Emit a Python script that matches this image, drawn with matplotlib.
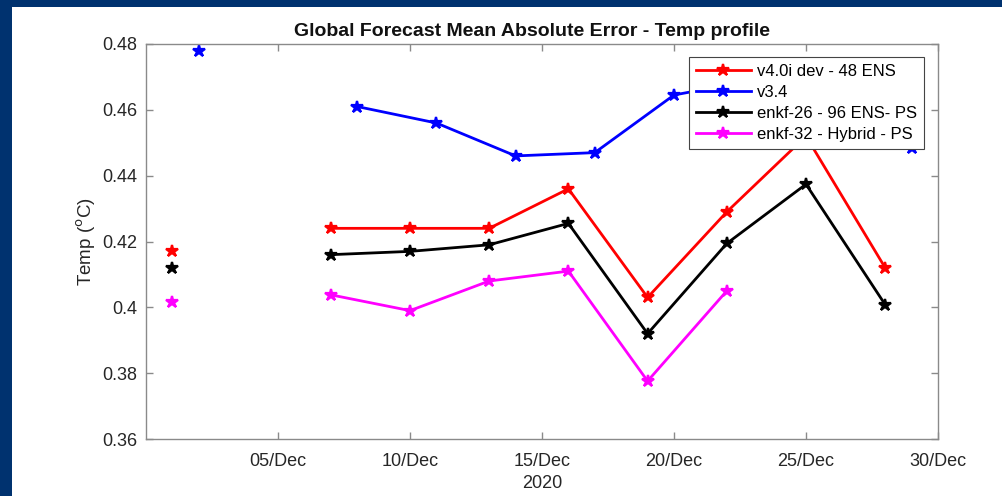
import matplotlib
matplotlib.use("Agg")
import matplotlib.pyplot as plt
import matplotlib.dates as mdates
from matplotlib.patches import Rectangle
import numpy as np
import datetime as dt

plt.rcParams['font.family'] = ['Liberation Sans', 'DejaVu Sans']

# ---- data ----
red_days = [1, 7, 10, 13, 16, 19, 22, 25, 28]
red_vals = [0.417, 0.424, 0.424, 0.424, 0.436, 0.403, 0.429, 0.452, 0.412]

blue_days = [2, 8, 11, 14, 17, 20, 23, 26, 29]
blue_vals = [0.478, 0.461, 0.456, 0.446, 0.447, 0.4645, 0.469, 0.462, 0.4485]

black_days = [1, 7, 10, 13, 16, 19, 22, 25, 28]
black_vals = [0.412, 0.416, 0.417, 0.419, 0.4255, 0.392, 0.4194, 0.4374, 0.4008]

mag_days = [1, 7, 10, 13, 16, 19, 22]
mag_vals = [0.4017, 0.4038, 0.399, 0.408, 0.411, 0.3776, 0.405]

labels = ['v4.0i dev - 48 ENS', 'v3.4', 'enkf-26 - 96 ENS- PS', 'enkf-32 - Hybrid - PS']
colors = ['#ff0000', '#0000ff', '#000000', '#ff00ff']

yticks = [0.36, 0.38, 0.40, 0.42, 0.44, 0.46, 0.48]
ytick_labels = ['0.36', '0.38', '0.4', '0.42', '0.44', '0.46', '0.48']
xtick_days = [5, 10, 15, 20, 25, 30]


def to_dates(days):
    return [dt.datetime(2020, 12, d) for d in days]


def segments(days, vals):
    # break lines where consecutive points are not 3 days apart (gaps in series)
    segs = []
    cur_d, cur_v = [days[0]], [vals[0]]
    for d, v in zip(days[1:], vals[1:]):
        if d - cur_d[-1] > 3:
            segs.append((cur_d, cur_v))
            cur_d, cur_v = [d], [v]
        else:
            cur_d.append(d)
            cur_v.append(v)
    segs.append((cur_d, cur_v))
    return segs


W, H = 1003, 496
fig = plt.figure(figsize=(W / 100, H / 100), dpi=100)
fig.patch.set_facecolor('#00326f')
bg = Rectangle((12 / W, 0), 1 - 12 / W, 1 - 7 / H,
               transform=fig.transFigure, facecolor='white',
               edgecolor='none', zorder=-10)
fig.add_artist(bg)

ax = fig.add_axes([146 / W, 1 - 439 / H, (938 - 146) / W, (439 - 44) / H])
ax.set_zorder(1)

handles = []
for (days, vals), c, lab in zip([(red_days, red_vals), (blue_days, blue_vals),
                                  (black_days, black_vals), (mag_days, mag_vals)],
                                 colors, labels):
    first = True
    for sd, sv in segments(days, vals):
        ln, = ax.plot(to_dates(sd), sv, '-', color=c, lw=2.0, marker='*',
                      markersize=9, markeredgewidth=1.6,
                      label=lab if first else None)
        if first:
            handles.append(ln)
            first = False

ax.set_xlim(dt.datetime(2020, 11, 30), dt.datetime(2020, 12, 30))
ax.set_ylim(0.36, 0.48)
ax.set_yticks(yticks)
ax.set_yticklabels(ytick_labels)
ax.set_xticks(to_dates(xtick_days))
ax.xaxis.set_major_formatter(mdates.DateFormatter('%d/%b'))

spine_c = '#8a8a8a'
for s in ax.spines.values():
    s.set_color(spine_c)
    s.set_linewidth(1.0)
ax.tick_params(direction='in', length=5, width=1.0, color=spine_c,
               labelsize=13, labelcolor='#262626', top=True, right=True,
               pad=6)
ax.tick_params(axis='x', pad=10)

ax.set_title('Global Forecast Mean Absolute Error - Temp profile',
             fontsize=14, fontweight='bold', pad=6, color='#111111', x=0.488)
ax.set_ylabel('Temp ($^{\\rm o}$C)', fontsize=13.5, color='#262626', labelpad=3)
ax.set_xlabel('2020', fontsize=13, color='#262626', labelpad=4)

leg = ax.legend(handles=handles, loc='upper right',
                bbox_to_anchor=(924 / W, 1 - 57 / H),
                bbox_transform=fig.transFigure, fontsize=12,
                frameon=True, fancybox=False, framealpha=1.0,
                edgecolor='#444444', handlelength=3.3, handletextpad=0.4,
                labelspacing=0.37, borderpad=0.4, borderaxespad=0)
leg.get_frame().set_linewidth(0.8)

fig.savefig('out.png', dpi=100, facecolor=fig.get_facecolor())
